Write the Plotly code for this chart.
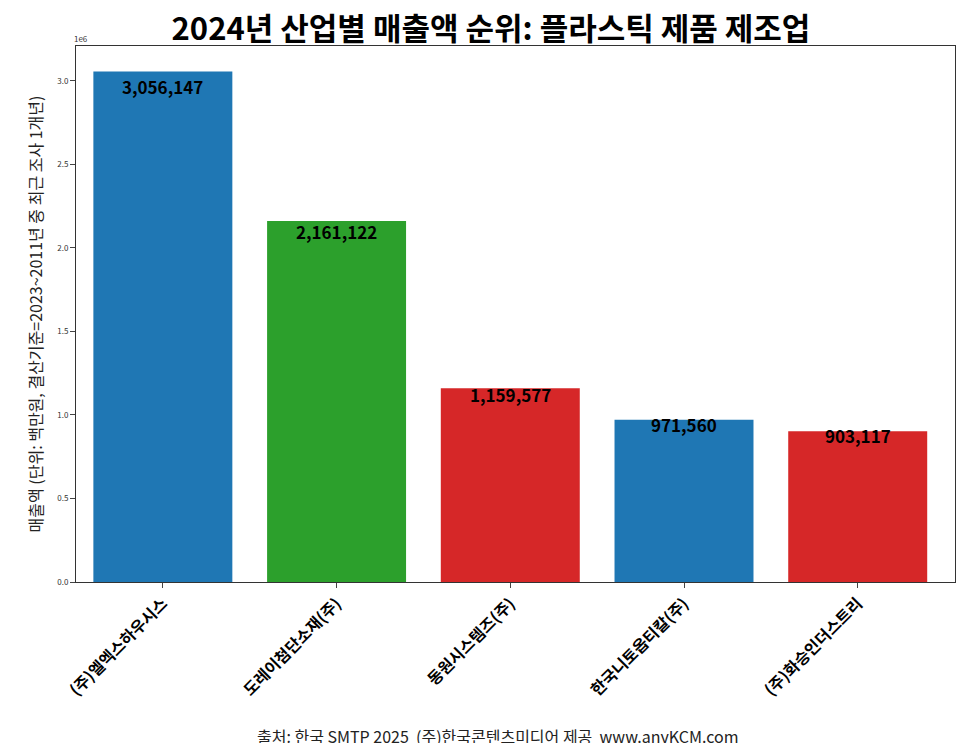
import plotly.graph_objects as go

companies = ["(주)엘엑스하우시스", "도레이첨단소재(주)", "동원시스템즈(주)", "한국니토옵티칼(주)", "(주)화승인더스트리"]
sales = [3056147, 2161122, 1159577, 971560, 903117]
colors = ["#1f77b4", "#2ca02c", "#d62728", "#1f77b4", "#d62728"]
tick_vals = [0, 500000, 1000000, 1500000, 2000000, 2500000, 3000000]
tick_text = ["0.0", "0.5", "1.0", "1.5", "2.0", "2.5", "3.0"]

F = "Noto Sans CJK KR"
fig = go.Figure(go.Bar(x=companies, y=sales, marker_color=colors, marker_line_width=0, width=0.8))
for c, v in zip(companies, sales):
    fig.add_annotation(x=c, y=v * 0.97, text=f"<b>{v:,}</b>", showarrow=False,
                       font=dict(family=F, size=17, color="black"), yanchor="middle")
fig.add_annotation(xref="paper", yref="paper", x=-0.005, y=1, text="1e6", showarrow=False,
                   xanchor="left", yanchor="bottom", font=dict(size=8, color="#333"))
fig.add_annotation(xref="paper", yref="paper", x=0.48, y=-0.287, text="출처: 한국 SMTP 2025  (주)한국콘텐츠미디어 제공  www.anyKCM.com",
                   showarrow=False, yanchor="middle", font=dict(family=F, size=16, color="#222"))
fig.update_layout(
    width=966, height=743, plot_bgcolor="white", paper_bgcolor="white",
    margin=dict(l=68, r=19, t=38, b=169, autoexpand=False),
    font=dict(family=F),
    title=dict(text="<b>2024년 산업별 매출액 순위: 플라스틱 제품 제조업</b>", x=0.5, xanchor="center",
               yref="container", y=0.972, yanchor="middle", font=dict(size=31, color="black")),
    showlegend=False,
)
fig.update_xaxes(showline=True, mirror=True, linecolor="#333", ticks="outside", tickangle=-45, automargin=False,
                 tickfont=dict(family=F, size=16, color="black"), range=[-0.5, 4.56],
                 tickvals=companies, ticktext=[f"<b>{c}</b>" for c in companies])
fig.update_yaxes(showline=True, mirror=True, linecolor="#333", ticks="outside", range=[0, 3209000], automargin=False,
                 tickvals=tick_vals, ticktext=tick_text, tickfont=dict(size=8, color="#333"),
                 showgrid=False, zeroline=False,
                 title=dict(text="매출액 (단위: 백만원, 결산기준=2023~2011년 중 최근 조사 1개년)", font=dict(size=16, color="#222"), standoff=10))
fig.write_html("out.html")
